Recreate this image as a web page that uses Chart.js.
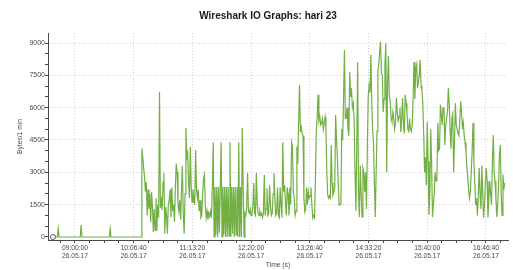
<!DOCTYPE html>
<html>
<head>
    <title>Wireshark IO Graphs: hari 23</title>
    <script src="https://cdn.jsdelivr.net/npm/chart.js"></script>
    <style>
        body { margin: 0; padding: 0; background: #fff; }
        #chart { display: block; }
    </style>
</head>
<body>
<canvas id="chart" width="513" height="270"></canvas>
<script>
// capture settings
const chartTitle = 'Wireshark IO Graphs: hari 23';
const captureDate = '26.05.17';
const startSeconds = 8 * 3600 + 35 * 60;   // first interval, 08:35:00
const intervalSeconds = 60;                 // 1 min per point

// bytes per 1 min interval
const bytesPerMin = [
    0, 0, 0, 0, 0, 0, 400, 0, 0, 0,
    0, 0, 0, 0, 0, 0, 0, 0, 0, 0,
    0, 0, 0, 0, 0, 0, 0, 0, 0, 0,
    0, 0, 550, 0, 0, 0, 0, 0, 0, 0,
    0, 0, 0, 0, 0, 0, 0, 0, 0, 0,
    0, 0, 0, 0, 0, 0, 0, 0, 0, 0,
    0, 0, 0, 0, 0, 400, 0, 0, 0, 0,
    0, 0, 0, 0, 0, 0, 0, 0, 0, 0,
    0, 0, 0, 0, 0, 0, 0, 0, 0, 0,
    0, 0, 0, 0, 0, 0, 0, 0, 0, 0,
    0, 4100, 3700, 3200, 2800, 2100, 2550, 1000, 2200, 1300,
    2000, 700, 2100, 1400, 230, 1300, 300, 1800, 300, 1500,
    900, 6730, 1350, 1700, 1250, 2550, 2970, 150, 1400, 1000,
    150, 1500, 1700, 2200, 900, 2300, 1200, 1500, 700, 2300,
    3400, 3000, 1500, 1200, 1700, 800, 2200, 3300, 1000, 150,
    2000, 5060, 3700, 3900, 2500, 1800, 4180, 2300, 1600, 2200,
    1800, 1500, 4040, 2200, 1800, 2200, 1200, 1700, 900, 1000,
    2000, 2700, 2900, 1500, 900, 1200, 800, 1100, 950, 1200,
    900, 2320, 4400, 0, 2320, 100, 2320, 0, 2320, 200,
    2320, 4400, 0, 2320, 100, 2320, 0, 2320, 0, 2320,
    50, 4400, 0, 2320, 150, 2320, 0, 2320, 100, 2320,
    0, 4400, 0, 2320, 0, 5060, 2320, 0, 1100, 1000,
    1400, 2970, 1200, 1100, 1300, 1000, 1100, 1400, 2500, 1100,
    1000, 2970, 1500, 1100, 1000, 1200, 1000, 1100, 900, 1100,
    2880, 1000, 1300, 2270, 1000, 1100, 2400, 1500, 1000, 1100,
    2000, 2970, 1800, 1000, 1100, 2300, 1000, 900, 2300, 1500,
    900, 4400, 2100, 2400, 1600, 1000, 2300, 2000, 1000, 2300,
    1500, 4400, 4200, 2100, 1800, 1000, 1200, 4200, 3400, 5300,
    7050, 4870, 5100, 4800, 4700, 1800, 1160, 1300, 2300, 1500,
    2100, 1800, 1900, 2300, 1500, 880, 1000, 900, 2500, 4870,
    5500, 6600, 5400, 5600, 5200, 5300, 5500, 5000, 5300, 5570,
    5000, 3000, 1950, 1800, 1900, 1800, 4270, 2500, 1950, 2100,
    2300, 5660, 4500, 3670, 2500, 1480, 1500, 1600, 5000, 4500,
    6400, 8680, 5500, 5520, 6000, 5000, 4700, 7660, 6500, 6900,
    6000, 6200, 5500, 3000, 1200, 4200, 8120, 2000, 930, 3300,
    2000, 930, 3200, 3000, 2100, 3000, 1300, 4200, 6500, 7000,
    6700, 8450, 6200, 5000, 4300, 2500, 930, 3000, 4900, 7700,
    8000, 8600, 9050, 7600, 7520, 5800, 6400, 8000, 9000, 3000,
    7200, 8400, 6500, 6300, 5500, 5340, 5800, 5500, 5000, 5300,
    6450, 5800, 5400, 5600, 6000, 4870, 5500, 6450, 5200, 4800,
    6600, 6200, 5800, 5000, 4900, 5500, 5000, 4900, 5200, 6500,
    8120, 6400, 7800, 8000, 6900, 7200, 7500, 8210, 7000, 6800,
    6200, 4800, 3000, 3700, 2400, 5340, 3500, 1020, 2000, 5000,
    3400, 930, 1500, 2000, 3000, 2600, 2700, 5300, 4000, 4100,
    6130, 5700, 5200, 6000, 5990, 4270, 5200, 5500, 5800, 6910,
    6200, 5000, 4100, 5500, 5700, 3000, 4500, 6200, 5200, 5000,
    4800, 4700, 5400, 6300, 5800, 5000, 5300, 4700, 4400, 3900,
    3300, 2800, 2200, 1800, 2100, 3000, 4000, 5290, 3500, 2600,
    1480, 1800, 1000, 1900, 3200, 2000, 1300, 3300, 2100, 900,
    1500, 2500, 3200, 2600, 900, 1800, 2600, 2000, 1500, 3500,
    4730, 3000, 2600, 1800, 930, 1500, 2400, 3800, 4270, 2000,
    1000, 2900, 2200, 2500
];

// axis ticks
const yTicks = [0, 500, 1000, 1500, 2000, 2500, 3000, 3500, 4000, 4500,
                5000, 5500, 6000, 6500, 7000, 7500, 8000, 8500, 9000];
const yLabelStep = 1500;
const xFirstTick = 31400;    // seconds of day, minor tick every 1000 s
const xLastTick = 61400;
const xLabelTimes = [32400, 36400, 40400, 44400, 48400, 52400, 56400, 60400];

function hms(sec) {
    const h = Math.floor(sec / 3600), m = Math.floor(sec % 3600 / 60), s = sec % 60;
    return [h, m, s].map(v => String(v).padStart(2, '0')).join(':');
}

const points = bytesPerMin.map((v, i) => ({ x: startSeconds + i * intervalSeconds, y: v }));

const tickFont = { family: 'Liberation Sans, Arial, sans-serif', size: 6.7 };
const gray = '#4a4a4a';

// title over the widget, not centred on the canvas
const titlePlugin = {
    id: 'wsTitle',
    afterDraw(chart) {
        const ctx = chart.ctx;
        ctx.save();
        ctx.font = 'bold 10px "Liberation Sans", Arial, sans-serif';
        ctx.fillStyle = '#1a1a1a';
        ctx.textAlign = 'center';
        ctx.textBaseline = 'middle';
        ctx.fillText(chartTitle, 268, 16);
        ctx.restore();
    }
};

new Chart(document.getElementById('chart'), {
    type: 'line',
    data: {
        datasets: [{
            data: points,
            borderColor: '#72b043',
            borderWidth: 1.2,
            pointRadius: ctx => ctx.dataIndex === 0 ? 2.5 : 0,
            pointBackgroundColor: '#fff',
            pointBorderColor: '#555',
            pointBorderWidth: 1,
            tension: 0,
            fill: false
        }]
    },
    options: {
        responsive: false,
        animation: false,
        layout: { padding: { top: 33, left: 0, right: 0, bottom: 0 } },
        plugins: {
            legend: { display: false },
            tooltip: { enabled: false }
        },
        scales: {
            x: {
                type: 'linear',
                min: 30563,
                max: 61904,
                afterFit: s => { s.height = 30; },
                afterBuildTicks: s => {
                    const t = [];
                    for (let v = xFirstTick; v <= xLastTick; v += 1000) t.push({ value: v });
                    s.ticks = t;
                },
                ticks: {
                    autoSkip: false,
                    maxRotation: 0,
                    padding: 1,
                    color: gray,
                    font: tickFont,
                    callback: v => xLabelTimes.includes(v) ? [hms(v), captureDate] : ''
                },
                grid: {
                    color: c => c.tick && xLabelTimes.includes(c.tick.value) ? '#d0d0d0' : 'rgba(0,0,0,0)',
                    tickColor: gray,
                    tickLength: 3
                },
                border: { color: gray, width: 1, dash: [1, 2] },
                title: {
                    display: true,
                    text: 'Time (s)',
                    color: gray,
                    font: tickFont,
                    padding: { top: 0, bottom: 1 }
                }
            },
            y: {
                min: -140,
                max: 9464,
                afterFit: s => { s.width = 48; },
                afterBuildTicks: s => { s.ticks = yTicks.map(v => ({ value: v })); },
                ticks: {
                    padding: 0,
                    color: gray,
                    font: { family: 'Liberation Sans, Arial, sans-serif', size: 7 },
                    callback: v => v % yLabelStep === 0 ? String(v) : ''
                },
                grid: {
                    color: c => c.tick && c.tick.value % yLabelStep === 0 && c.tick.value > 0 ? '#d0d0d0' : 'rgba(0,0,0,0)',
                    tickColor: gray,
                    tickLength: 3
                },
                border: { color: gray, width: 1, dash: [1, 2] },
                title: {
                    display: true,
                    text: 'Bytes/1 min',
                    color: gray,
                    font: tickFont,
                    padding: { top: 16, bottom: 0 }
                }
            }
        }
    },
    plugins: [titlePlugin]
});
</script>
</body>
</html>
